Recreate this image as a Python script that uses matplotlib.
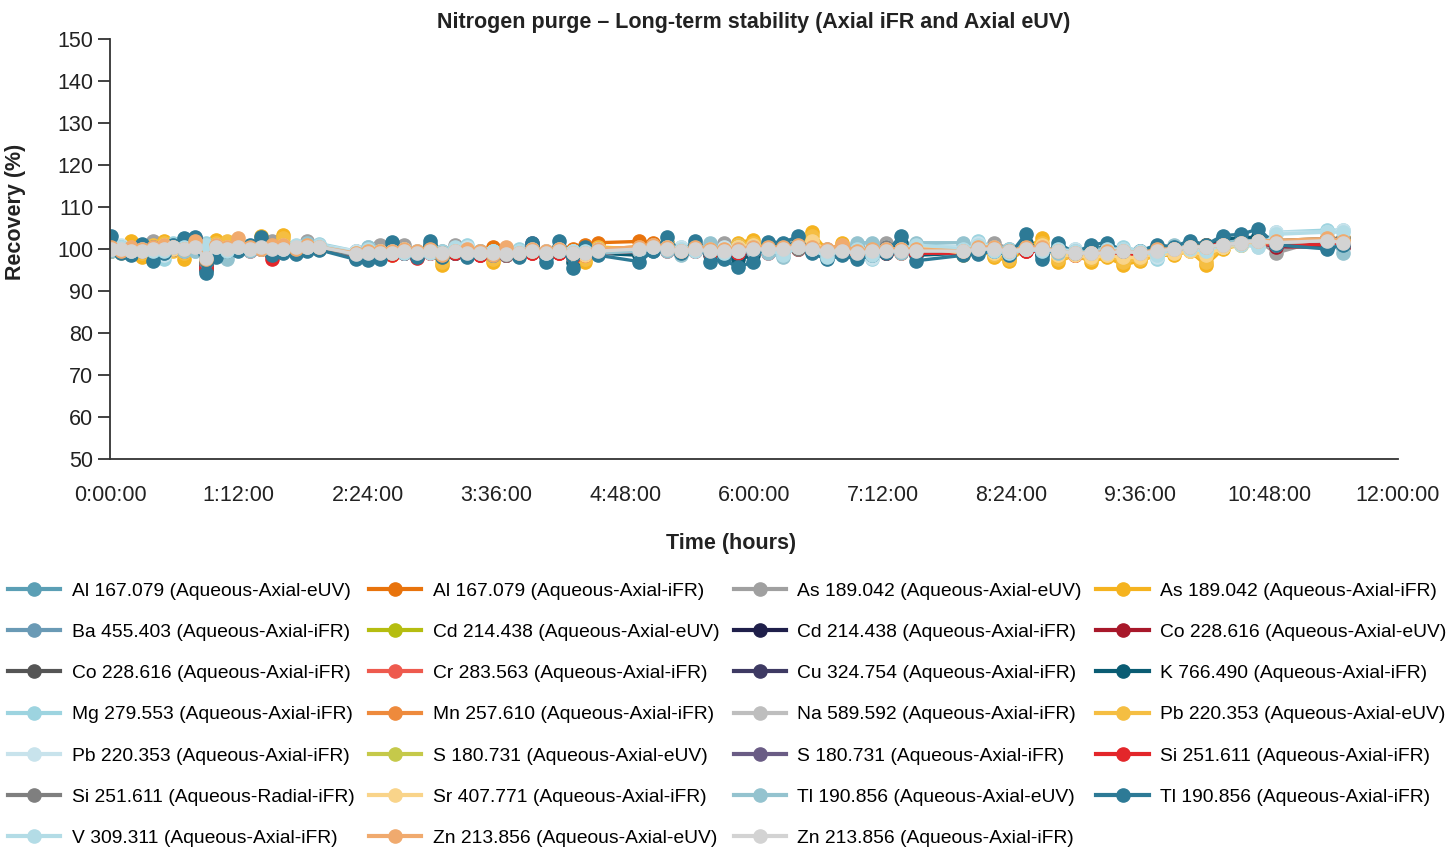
import matplotlib
matplotlib.use("Agg")
import matplotlib.pyplot as plt
from matplotlib.lines import Line2D
from matplotlib.ticker import FuncFormatter, MultipleLocator

plt.rcParams["font.family"] = ["Liberation Sans", "DejaVu Sans"]

# sample times in hours
times = [
    0.01, 0.10, 0.20, 0.30, 0.40, 0.50, 0.59, 0.69, 0.79, 0.89, 0.99, 1.09, 1.19, 1.30, 1.41, 1.51, 1.61, 1.73, 1.84, 1.95,
    2.29, 2.40, 2.52, 2.63, 2.74, 2.86, 2.98, 3.09, 3.21, 3.33, 3.45, 3.57, 3.69, 3.81, 3.93, 4.06, 4.18, 4.31, 4.43, 4.55,
    4.93, 5.06, 5.19, 5.32, 5.45, 5.59, 5.72, 5.85, 5.99, 6.13, 6.27, 6.41, 6.54, 6.68, 6.82, 6.96, 7.10, 7.23, 7.37, 7.51,
    7.95, 8.09, 8.24, 8.38, 8.53, 8.68, 8.83, 8.99, 9.14, 9.29, 9.44, 9.60, 9.75, 9.91, 10.06, 10.21, 10.37, 10.54, 10.70, 10.86,
    11.34, 11.49,
]

labels = [
    "Al 167.079 (Aqueous-Axial-eUV)", "Al 167.079 (Aqueous-Axial-iFR)", "As 189.042 (Aqueous-Axial-eUV)",
    "As 189.042 (Aqueous-Axial-iFR)", "Ba 455.403 (Aqueous-Axial-iFR)", "Cd 214.438 (Aqueous-Axial-eUV)",
    "Cd 214.438 (Aqueous-Axial-iFR)", "Co 228.616 (Aqueous-Axial-eUV)", "Co 228.616 (Aqueous-Axial-iFR)",
    "Cr 283.563 (Aqueous-Axial-iFR)", "Cu 324.754 (Aqueous-Axial-iFR)", "K 766.490 (Aqueous-Axial-iFR)",
    "Mg 279.553 (Aqueous-Axial-iFR)", "Mn 257.610 (Aqueous-Axial-iFR)", "Na 589.592 (Aqueous-Axial-iFR)",
    "Pb 220.353 (Aqueous-Axial-eUV)", "Pb 220.353 (Aqueous-Axial-iFR)", "S 180.731 (Aqueous-Axial-eUV)",
    "S 180.731 (Aqueous-Axial-iFR)", "Si 251.611 (Aqueous-Axial-iFR)", "Si 251.611 (Aqueous-Radial-iFR)",
    "Sr 407.771 (Aqueous-Axial-iFR)", "Tl 190.856 (Aqueous-Axial-eUV)", "Tl 190.856 (Aqueous-Axial-iFR)",
    "V 309.311 (Aqueous-Axial-iFR)", "Zn 213.856 (Aqueous-Axial-eUV)", "Zn 213.856 (Aqueous-Axial-iFR)",
]

colors = [
    "#5b9fb5", "#e8730c", "#a0a0a0", "#f5b31f", "#6a9ab5", "#b5bd10", "#1f1f4a", "#a8182a", "#555555",
    "#ee5a4e", "#3e3a63", "#0a5c73", "#9dd4e0", "#ee8a3c", "#bebebe", "#f5be42", "#c8e3ec", "#c5c94a",
    "#6a5c85", "#e3262a", "#7f7f7f", "#f9d48a", "#94c3cf", "#2d7a96", "#b3dce6", "#f0aa6e", "#d3d3d3",
]

al_euv = [
    99.5, 100.0, 99.0, 100.0, 99.5, 100.0, 100.0, 99.5, 100.0, 97.5, 99.5, 99.5, 100.0, 100.0, 100.0, 99.5, 99.5, 100.0, 100.0, 100.0,
    98.5, 98.5, 99.0, 99.5, 99.0, 98.5, 99.5, 98.5, 99.0, 99.0, 98.5, 98.5, 98.5, 98.5, 99.5, 98.5, 99.5, 98.5, 98.5, 99.0,
    99.0, 99.5, 100.0, 99.0, 100.0, 99.0, 99.0, 98.5, 99.5, 99.5, 99.5, 100.0, 99.5, 99.0, 99.0, 98.5, 99.0, 99.0, 99.5, 99.0,
    99.0, 99.5, 99.5, 99.0, 100.0, 99.0, 99.5, 98.5, 99.0, 99.0, 99.0, 98.5, 99.0, 99.5, 100.0, 100.0, 101.0, 101.5, 101.5, 100.5,
    100.5, 100.5,
]
al_ifr = [
    100.0, 100.0, 99.5, 100.0, 100.5, 100.0, 100.5, 100.0, 100.5, 98.0, 100.5, 100.0, 100.5, 100.0, 100.5, 100.0, 100.0, 100.5, 100.0, 100.5,
    99.0, 99.0, 99.0, 99.5, 99.5, 99.0, 99.5, 99.0, 99.5, 99.5, 99.0, 100.5, 99.0, 99.5, 100.0, 99.5, 100.0, 100.0, 101.0, 101.5,
    101.8, 101.5, 100.5, 100.0, 100.0, 99.5, 99.5, 100.0, 100.0, 100.5, 100.0, 100.5, 100.0, 99.5, 99.5, 99.5, 99.5, 99.5, 99.5, 100.0,
    99.5, 100.0, 100.0, 99.5, 100.0, 100.0, 99.5, 99.0, 99.5, 99.0, 99.5, 99.0, 99.5, 100.0, 100.5, 101.0, 101.0, 101.5, 101.5, 101.0,
    101.5, 101.5,
]
as_euv = [
    100.0, 100.0, 99.5, 100.5, 102.0, 100.5, 100.0, 100.5, 102.5, 96.0, 100.0, 100.0, 100.5, 100.0, 100.0, 102.0, 100.0, 100.5, 102.0, 100.0,
    99.5, 99.0, 101.0, 99.0, 101.0, 99.5, 99.5, 99.5, 101.0, 99.0, 99.5, 99.5, 99.0, 99.5, 99.5, 99.0, 99.5, 99.0, 99.5, 99.5,
    100.0, 100.5, 100.0, 99.5, 100.5, 100.0, 101.5, 100.0, 100.5, 100.0, 100.5, 100.5, 100.0, 100.0, 99.5, 101.0, 99.5, 101.5, 99.5, 100.0,
    100.0, 100.0, 101.5, 100.0, 100.5, 100.0, 100.0, 99.0, 99.5, 99.5, 99.5, 99.0, 99.5, 100.0, 100.5, 100.5, 101.0, 101.5, 102.0, 99.0,
    102.5, 102.0,
]
as_ifr = [
    100.5, 99.5, 101.8, 98.2, 100.5, 102.0, 100.0, 97.5, 100.0, 98.5, 102.2, 101.0, 100.0, 100.5, 103.0, 100.0, 103.3, 100.0, 100.5, 100.0,
    99.0, 99.5, 99.0, 98.5, 99.5, 99.0, 99.5, 96.2, 99.5, 99.0, 99.0, 97.0, 99.0, 99.5, 99.5, 99.0, 99.5, 98.5, 97.0, 100.0,
    100.5, 101.0, 101.5, 100.0, 100.0, 99.5, 100.0, 101.5, 102.2, 100.0, 100.0, 100.5, 104.0, 99.5, 101.5, 99.0, 99.5, 100.0, 99.5, 101.0,
    99.0, 100.0, 98.0, 97.2, 100.0, 102.5, 97.0, 98.5, 97.0, 98.0, 96.2, 97.2, 98.5, 98.5, 99.5, 96.2, 100.0, 101.0, 101.5, 101.5,
    102.0, 102.5,
]
ba_ifr = [
    100.0, 99.5, 99.5, 100.5, 99.5, 100.0, 100.5, 100.5, 100.5, 97.0, 100.0, 100.0, 100.5, 100.5, 100.5, 99.5, 100.0, 100.0, 100.5, 100.5,
    98.5, 99.0, 99.0, 100.0, 99.5, 99.0, 100.0, 99.0, 99.5, 99.0, 99.5, 99.0, 99.0, 99.0, 100.0, 98.5, 100.0, 98.5, 99.5, 99.5,
    99.5, 100.5, 100.5, 99.5, 100.5, 99.5, 99.0, 99.0, 99.5, 100.5, 100.0, 100.5, 100.0, 99.0, 99.5, 99.0, 99.5, 99.5, 100.5, 99.0,
    99.5, 100.0, 100.0, 99.0, 100.5, 99.5, 100.0, 99.0, 99.5, 99.5, 99.5, 99.0, 100.0, 100.0, 101.0, 100.5, 101.5, 102.0, 102.5, 101.5,
    101.5, 101.0,
]
cd_euv = [
    100.0, 100.0, 99.5, 99.5, 100.0, 100.0, 100.5, 100.0, 100.5, 97.5, 100.5, 100.0, 100.5, 100.0, 100.0, 100.0, 100.5, 100.0, 100.5, 100.0,
    98.5, 99.0, 99.0, 99.0, 99.5, 99.0, 99.5, 99.0, 99.5, 99.0, 99.0, 99.0, 98.5, 99.0, 99.5, 99.0, 99.5, 99.0, 99.0, 99.5,
    100.0, 100.5, 100.0, 99.5, 100.0, 99.5, 99.5, 99.5, 100.0, 100.0, 100.0, 100.5, 100.0, 99.5, 99.5, 99.0, 99.5, 99.5, 99.5, 99.5,
    99.5, 100.0, 100.0, 99.5, 100.0, 100.0, 99.5, 99.0, 99.0, 99.0, 99.5, 99.0, 99.5, 100.0, 100.5, 100.5, 101.0, 101.0, 101.5, 101.5,
    102.0, 101.5,
]
cd_ifr = [
    100.0, 99.5, 99.5, 100.0, 99.5, 100.0, 100.0, 100.5, 100.5, 96.5, 100.0, 100.0, 100.0, 100.5, 100.5, 99.5, 100.0, 100.0, 100.0, 100.0,
    98.0, 98.5, 99.0, 99.5, 99.0, 98.5, 99.5, 99.0, 99.0, 98.5, 99.0, 98.5, 98.5, 98.5, 99.5, 98.5, 99.5, 98.5, 99.0, 99.0,
    99.5, 100.0, 100.5, 99.5, 100.5, 99.0, 99.0, 98.5, 99.5, 100.0, 100.0, 100.5, 99.5, 99.0, 99.0, 99.0, 99.0, 99.5, 100.0, 99.0,
    99.0, 99.5, 99.5, 98.0, 100.0, 99.5, 99.5, 99.0, 99.5, 99.5, 99.5, 99.0, 99.5, 100.0, 100.5, 100.5, 101.5, 102.0, 102.0, 101.0,
    101.5, 101.0,
]
co_euv = [
    100.0, 99.5, 99.5, 100.0, 100.0, 99.5, 100.0, 99.5, 101.5, 96.0, 100.0, 99.5, 100.0, 100.0, 100.0, 98.5, 100.0, 100.0, 100.0, 100.0,
    98.0, 98.5, 98.5, 99.0, 99.0, 98.0, 99.0, 98.5, 99.0, 98.5, 98.5, 98.5, 98.5, 98.5, 99.0, 98.5, 99.0, 98.0, 98.5, 99.0,
    99.5, 100.0, 100.0, 99.0, 99.5, 99.0, 99.0, 99.0, 99.5, 99.5, 99.5, 100.0, 99.5, 99.0, 99.0, 98.5, 99.0, 99.0, 99.5, 99.0,
    99.0, 99.5, 99.5, 99.0, 99.5, 99.5, 99.0, 98.5, 99.0, 99.0, 99.0, 98.5, 99.0, 99.5, 100.0, 100.5, 101.0, 101.5, 101.5, 100.5,
    100.5, 100.5,
]
co_ifr = [
    100.0, 99.5, 99.5, 100.0, 100.0, 100.0, 100.0, 100.0, 100.5, 96.5, 100.0, 100.0, 100.0, 100.0, 100.5, 99.5, 100.0, 100.0, 100.0, 100.0,
    98.0, 98.5, 99.0, 99.0, 99.0, 98.5, 99.5, 98.5, 99.0, 98.5, 99.0, 98.5, 98.5, 98.5, 99.5, 98.5, 99.5, 98.5, 99.0, 99.0,
    99.5, 100.0, 100.0, 99.5, 100.0, 99.0, 99.0, 99.0, 99.5, 100.0, 100.0, 100.5, 99.5, 99.0, 99.0, 99.0, 99.0, 99.5, 100.0, 99.0,
    99.0, 99.5, 99.5, 99.0, 100.0, 99.5, 99.5, 99.0, 99.0, 99.5, 99.5, 99.0, 99.5, 100.0, 100.5, 101.0, 101.5, 102.0, 102.5, 101.0,
    102.0, 102.0,
]
cr_ifr = [
    100.0, 99.5, 99.5, 100.0, 100.0, 99.5, 100.0, 100.0, 101.0, 96.0, 100.0, 100.0, 100.0, 100.0, 100.5, 98.5, 100.0, 100.0, 100.0, 100.0,
    98.0, 98.5, 98.5, 99.0, 99.0, 98.0, 99.0, 98.5, 99.0, 98.5, 98.5, 98.5, 98.5, 98.5, 99.0, 98.5, 99.0, 98.5, 98.5, 99.0,
    99.5, 100.0, 100.0, 99.0, 99.5, 99.0, 99.0, 99.0, 99.5, 99.5, 99.5, 100.0, 99.5, 99.0, 99.0, 98.5, 99.0, 99.0, 99.5, 99.0,
    99.0, 99.5, 99.5, 99.0, 99.5, 99.5, 99.0, 98.5, 99.0, 99.0, 99.0, 98.5, 99.0, 99.5, 100.0, 100.5, 101.0, 101.5, 102.0, 101.0,
    101.5, 101.0,
]
cu_ifr = [
    100.0, 99.5, 99.5, 100.0, 100.0, 100.0, 100.0, 100.5, 100.5, 96.5, 100.0, 100.0, 100.0, 100.0, 100.5, 99.5, 100.0, 100.0, 100.0, 100.0,
    98.5, 98.5, 99.0, 99.5, 99.0, 98.5, 99.5, 99.0, 99.0, 98.5, 99.0, 98.5, 98.5, 99.0, 101.0, 98.5, 99.5, 98.5, 99.0, 99.0,
    99.5, 100.0, 100.5, 99.5, 100.5, 99.0, 99.0, 99.0, 99.5, 100.0, 100.0, 100.5, 100.5, 99.0, 99.0, 99.0, 99.0, 99.5, 100.0, 99.0,
    99.0, 99.5, 99.5, 98.5, 100.0, 99.5, 99.5, 99.0, 99.5, 99.5, 99.5, 99.0, 99.5, 100.0, 100.5, 100.5, 101.5, 102.0, 102.5, 101.0,
    101.5, 101.0,
]
k_ifr = [
    100.5, 99.5, 99.0, 100.5, 98.5, 99.5, 100.5, 101.0, 101.5, 95.0, 99.0, 99.5, 100.0, 100.5, 101.5, 99.0, 99.5, 99.5, 100.0, 100.0,
    98.0, 98.0, 98.5, 100.5, 99.0, 98.5, 101.0, 98.5, 99.0, 98.5, 99.0, 98.5, 99.0, 98.5, 100.5, 98.0, 100.5, 97.0, 100.0, 99.0,
    98.5, 100.0, 101.5, 99.0, 101.0, 98.5, 98.5, 97.5, 98.5, 101.0, 100.5, 101.5, 99.5, 98.5, 99.0, 98.5, 99.0, 99.0, 101.5, 98.5,
    99.0, 99.5, 99.5, 98.5, 101.5, 98.5, 100.5, 99.0, 100.0, 100.5, 99.5, 99.5, 100.5, 100.5, 101.5, 101.0, 102.5, 102.5, 103.0, 101.0,
    100.5, 101.0,
]
mg_ifr = [
    99.5, 100.8, 100.0, 99.5, 100.5, 97.5, 101.5, 100.0, 99.5, 101.5, 100.0, 100.5, 100.0, 100.0, 100.5, 99.5, 100.0, 100.5, 101.0, 101.3,
    99.5, 100.5, 99.5, 99.5, 100.0, 99.0, 100.0, 99.5, 100.0, 101.0, 99.5, 99.5, 99.5, 100.0, 99.5, 99.5, 100.0, 99.5, 100.0, 100.0,
    100.0, 101.0, 101.5, 100.5, 100.0, 100.5, 100.0, 101.0, 100.0, 99.5, 99.5, 100.5, 101.5, 98.5, 99.5, 100.0, 97.5, 100.5, 99.5, 101.0,
    100.5, 101.8, 100.5, 100.0, 100.5, 100.0, 100.0, 100.0, 99.5, 100.0, 100.5, 99.5, 97.5, 100.0, 100.5, 99.5, 101.0, 101.5, 101.0, 104.0,
    104.5, 104.5,
]
mn_ifr = [
    100.0, 100.0, 99.5, 100.0, 100.0, 100.0, 100.5, 100.0, 100.5, 97.5, 100.5, 100.0, 100.5, 100.0, 100.5, 100.0, 100.0, 100.5, 100.5, 100.5,
    98.5, 99.0, 99.0, 99.0, 99.5, 99.0, 99.5, 99.0, 99.5, 99.0, 99.0, 99.0, 99.5, 99.0, 99.5, 99.0, 99.5, 99.0, 99.5, 100.0,
    100.5, 101.0, 100.0, 99.5, 100.0, 99.5, 99.5, 99.5, 100.0, 100.0, 100.0, 100.5, 100.0, 99.5, 99.5, 99.0, 99.5, 99.5, 99.5, 99.5,
    99.5, 100.0, 100.0, 99.5, 100.0, 100.0, 99.5, 99.0, 99.0, 99.0, 99.5, 99.0, 99.5, 100.0, 100.5, 101.0, 101.0, 101.5, 102.0, 101.5,
    102.0, 101.5,
]
na_ifr = [
    100.0, 100.0, 99.5, 99.5, 100.0, 100.0, 100.0, 100.0, 100.5, 97.5, 100.5, 100.0, 100.0, 100.0, 100.5, 100.0, 100.0, 100.0, 100.5, 100.5,
    98.5, 99.0, 99.5, 99.0, 99.5, 99.0, 99.5, 99.0, 99.5, 99.0, 99.0, 99.0, 98.5, 99.0, 99.5, 99.0, 99.5, 98.5, 99.0, 99.5,
    100.0, 100.5, 100.0, 99.5, 100.0, 99.5, 100.0, 99.5, 100.0, 100.0, 100.0, 100.5, 100.0, 99.5, 99.5, 99.0, 99.5, 99.5, 99.5, 99.5,
    99.5, 100.0, 100.0, 99.5, 100.0, 100.0, 99.5, 99.0, 99.0, 99.0, 99.5, 99.0, 99.5, 100.0, 100.5, 100.5, 101.0, 101.5, 101.5, 101.0,
    101.5, 101.0,
]
pb_euv = [
    99.5, 100.5, 100.5, 99.0, 101.0, 101.5, 99.5, 99.0, 101.0, 97.0, 101.5, 102.0, 101.0, 100.0, 101.5, 99.5, 102.5, 100.5, 101.0, 100.5,
    98.5, 99.5, 99.5, 99.0, 100.0, 98.5, 100.0, 97.0, 100.0, 98.5, 99.5, 97.5, 99.5, 98.5, 100.0, 98.5, 100.0, 98.0, 97.5, 100.5,
    100.0, 100.5, 101.5, 99.5, 100.5, 99.0, 99.5, 101.0, 101.5, 100.5, 99.5, 101.0, 103.0, 99.0, 101.0, 99.0, 100.0, 99.5, 99.0, 100.5,
    98.5, 99.5, 98.5, 97.5, 100.5, 101.5, 97.5, 98.5, 97.5, 98.5, 97.0, 97.5, 98.5, 99.0, 99.5, 97.0, 100.5, 101.5, 101.5, 102.0,
    102.5, 102.5,
]
pb_ifr = [
    100.0, 101.0, 99.5, 100.0, 100.0, 98.5, 100.5, 100.0, 100.5, 100.5, 100.0, 99.5, 100.0, 100.5, 100.5, 100.0, 100.0, 100.5, 100.5, 101.0,
    99.5, 100.5, 99.0, 99.5, 100.0, 99.5, 99.5, 99.0, 100.0, 100.5, 99.5, 99.5, 99.0, 99.5, 99.5, 99.5, 99.5, 99.5, 99.5, 100.0,
    100.0, 100.5, 101.0, 100.5, 100.0, 100.0, 100.5, 100.5, 100.0, 100.0, 99.0, 100.0, 100.5, 98.0, 99.5, 100.0, 97.8, 100.5, 99.5, 100.5,
    100.5, 101.5, 100.0, 99.5, 100.0, 100.0, 99.5, 100.0, 99.0, 99.5, 100.0, 99.5, 98.0, 99.5, 100.0, 99.5, 100.5, 101.0, 100.5, 104.0,
    104.0, 104.5,
]
s_euv = [
    100.0, 100.0, 99.5, 99.5, 100.0, 100.5, 100.5, 100.0, 100.5, 97.5, 100.5, 100.0, 100.5, 100.0, 100.0, 100.0, 100.5, 100.5, 100.5, 100.5,
    98.5, 99.0, 99.5, 99.0, 99.5, 99.0, 99.5, 99.0, 99.5, 99.5, 99.0, 99.0, 99.0, 99.0, 99.5, 99.0, 99.5, 99.0, 99.0, 99.5,
    100.0, 100.5, 100.0, 99.5, 100.0, 99.5, 99.5, 99.5, 100.0, 100.0, 100.0, 100.5, 100.0, 99.5, 99.5, 99.0, 99.5, 99.5, 99.5, 99.5,
    99.5, 100.0, 100.0, 99.5, 100.0, 100.0, 99.5, 99.0, 99.0, 99.0, 99.5, 99.0, 99.5, 100.0, 100.5, 100.5, 101.0, 101.0, 101.5, 101.5,
    101.5, 101.5,
]
s_ifr = [
    100.0, 99.5, 99.5, 100.0, 100.0, 100.0, 100.0, 100.5, 100.5, 96.5, 100.0, 100.0, 100.0, 100.0, 100.5, 99.5, 100.0, 100.0, 100.0, 100.0,
    98.5, 98.5, 99.0, 99.5, 99.0, 98.5, 99.5, 99.0, 99.0, 98.5, 99.0, 98.5, 98.5, 99.0, 101.5, 98.5, 99.5, 98.5, 99.0, 99.0,
    99.5, 100.0, 100.5, 99.5, 100.5, 99.0, 99.0, 99.0, 99.5, 100.0, 100.0, 100.5, 101.0, 99.0, 99.0, 99.0, 99.0, 99.5, 100.0, 99.0,
    99.0, 99.5, 99.5, 98.5, 100.0, 99.5, 99.5, 99.0, 99.5, 99.5, 99.5, 99.0, 99.5, 100.0, 100.5, 100.5, 101.5, 102.0, 102.0, 101.0,
    101.5, 101.0,
]
si_ifr = [
    100.0, 99.5, 99.5, 99.5, 100.0, 99.5, 100.0, 99.5, 102.5, 95.5, 100.0, 99.5, 100.0, 99.5, 100.0, 97.5, 99.5, 100.0, 100.0, 100.0,
    97.8, 98.5, 98.5, 98.5, 99.0, 97.8, 99.0, 98.5, 99.0, 98.5, 98.5, 98.5, 98.5, 98.5, 99.0, 98.5, 99.0, 98.0, 98.5, 99.0,
    99.5, 100.0, 99.5, 99.0, 99.5, 99.0, 99.0, 99.0, 99.5, 99.0, 99.5, 100.0, 99.5, 99.0, 99.0, 98.5, 99.0, 99.0, 99.0, 99.0,
    99.0, 99.5, 99.5, 99.0, 99.5, 99.5, 99.0, 98.5, 99.0, 99.0, 99.0, 98.5, 99.0, 99.5, 100.0, 100.5, 101.5, 101.5, 101.5, 101.0,
    101.0, 101.0,
]
si_radial = [
    100.0, 99.5, 100.0, 99.5, 100.5, 100.0, 100.0, 99.5, 101.0, 97.0, 100.5, 100.0, 100.0, 100.0, 100.5, 100.5, 100.0, 100.0, 100.5, 100.0,
    98.5, 99.0, 99.0, 99.0, 99.5, 99.0, 99.5, 98.5, 99.5, 99.0, 99.0, 98.5, 98.5, 99.0, 99.5, 98.5, 99.5, 99.0, 99.0, 99.0,
    99.5, 100.5, 100.0, 99.5, 100.0, 99.5, 99.5, 99.5, 100.0, 100.0, 100.0, 100.0, 100.0, 99.5, 99.5, 99.5, 99.5, 100.5, 99.5, 99.5,
    99.5, 100.0, 100.0, 99.5, 100.0, 100.0, 99.5, 99.0, 99.0, 99.0, 99.5, 99.0, 99.5, 100.0, 100.5, 100.5, 101.0, 101.5, 102.0, 102.0,
    102.5, 102.5,
]
sr_ifr = [
    100.0, 99.0, 100.0, 99.5, 100.0, 101.0, 100.0, 99.5, 100.5, 98.0, 101.0, 100.5, 101.0, 100.0, 100.5, 100.0, 101.0, 100.5, 100.5, 100.5,
    99.0, 99.5, 99.5, 99.0, 99.5, 99.0, 99.5, 98.5, 99.5, 99.0, 99.0, 98.5, 99.0, 99.0, 99.5, 99.0, 99.5, 98.5, 98.5, 100.0,
    100.0, 100.5, 101.0, 99.5, 100.0, 99.5, 99.5, 100.5, 101.0, 100.0, 100.0, 100.5, 102.0, 99.5, 100.5, 99.0, 99.5, 99.5, 99.5, 100.5,
    99.0, 100.0, 99.0, 98.5, 100.0, 101.0, 98.5, 98.5, 98.0, 98.5, 98.0, 98.0, 99.0, 99.0, 99.5, 98.5, 100.5, 101.0, 101.5, 101.5,
    102.0, 102.0,
]
tl_euv = [
    99.5, 100.5, 99.0, 100.5, 99.5, 99.0, 101.0, 99.5, 99.5, 98.0, 100.0, 97.5, 100.0, 99.5, 100.5, 99.0, 100.0, 100.5, 101.5, 101.0,
    98.5, 100.5, 98.5, 99.5, 99.5, 98.5, 99.5, 98.5, 100.0, 98.5, 99.5, 98.5, 99.0, 98.5, 100.0, 99.0, 99.5, 98.5, 99.5, 99.0,
    99.5, 100.0, 99.5, 98.5, 99.5, 101.5, 99.0, 99.5, 99.5, 99.0, 98.0, 101.0, 99.5, 99.0, 99.5, 101.5, 101.5, 99.5, 99.0, 101.5,
    101.5, 99.5, 99.5, 99.0, 100.0, 99.5, 99.0, 99.5, 100.0, 100.0, 99.5, 99.5, 99.0, 101.0, 100.5, 100.0, 101.5, 102.0, 102.0, 101.5,
    102.0, 99.0,
]
tl_ifr = [
    103.0, 99.0, 98.5, 101.2, 97.2, 99.0, 101.0, 102.5, 102.8, 94.2, 98.0, 99.5, 99.5, 101.0, 102.8, 98.5, 99.0, 98.8, 99.5, 99.8,
    97.5, 97.3, 97.5, 101.7, 99.0, 98.0, 102.0, 98.0, 99.5, 98.0, 99.0, 98.5, 99.5, 98.0, 101.5, 96.8, 102.0, 95.5, 100.5, 98.5,
    97.0, 99.5, 102.8, 99.0, 102.0, 97.0, 97.5, 95.6, 97.0, 101.7, 101.5, 103.0, 99.0, 97.5, 98.5, 97.5, 98.5, 99.0, 103.2, 97.2,
    98.5, 98.8, 99.5, 98.5, 103.5, 97.5, 101.5, 99.0, 101.0, 101.5, 99.5, 99.5, 101.0, 100.5, 102.0, 101.0, 103.2, 103.5, 104.8, 101.0,
    100.0, 101.0,
]
v_ifr = [
    100.0, 100.5, 99.5, 100.0, 99.5, 99.5, 100.5, 100.5, 101.0, 101.0, 100.5, 99.5, 100.5, 100.0, 100.0, 100.5, 100.0, 101.0, 100.5, 101.0,
    99.0, 100.0, 99.5, 99.5, 99.0, 99.5, 99.0, 99.0, 100.5, 99.5, 99.0, 99.5, 99.5, 99.5, 100.0, 99.0, 100.0, 99.5, 99.5, 100.0,
    100.0, 100.5, 100.5, 100.0, 99.5, 100.0, 99.0, 100.0, 100.5, 100.0, 98.5, 100.5, 100.0, 98.0, 100.0, 100.0, 98.5, 100.0, 100.0, 101.0,
    100.0, 101.0, 99.5, 99.0, 100.0, 99.5, 100.0, 99.5, 99.0, 100.0, 100.0, 99.5, 98.5, 100.0, 100.0, 99.5, 101.0, 101.0, 100.5, 103.5,
    104.0, 104.0,
]
zn_euv = [
    100.5, 99.5, 100.5, 100.0, 100.5, 101.0, 100.5, 100.0, 102.0, 97.5, 101.0, 100.5, 102.5, 100.5, 100.0, 101.0, 101.0, 100.0, 101.0, 100.5,
    99.0, 99.5, 99.5, 99.5, 100.0, 99.5, 100.0, 98.5, 99.5, 100.0, 99.5, 98.5, 100.5, 99.0, 100.0, 99.5, 100.0, 99.0, 99.0, 100.0,
    100.5, 101.0, 100.5, 99.5, 100.5, 100.0, 100.0, 100.0, 100.5, 100.5, 100.5, 101.0, 100.5, 100.0, 101.0, 99.5, 100.0, 100.0, 100.0, 100.0,
    99.5, 100.5, 100.5, 99.5, 100.5, 100.5, 99.5, 99.0, 99.0, 99.5, 99.5, 99.0, 100.0, 100.0, 100.5, 100.5, 101.0, 101.5, 102.0, 102.0,
    102.5, 102.0,
]
zn_ifr = [
    100.0, 100.0, 99.5, 99.5, 100.0, 100.0, 100.5, 100.0, 100.5, 97.8, 100.5, 100.0, 100.5, 100.0, 100.5, 100.0, 100.0, 100.5, 100.5, 100.5,
    98.8, 99.0, 99.0, 99.0, 99.5, 99.0, 99.5, 99.0, 99.5, 99.0, 99.0, 99.0, 98.8, 99.0, 99.5, 99.0, 99.5, 99.0, 99.0, 99.5,
    100.0, 100.5, 100.0, 99.5, 100.0, 99.5, 99.5, 99.5, 100.0, 100.0, 100.0, 100.5, 100.0, 99.5, 99.5, 99.0, 99.5, 99.5, 99.5, 99.5,
    99.5, 100.0, 100.0, 99.5, 100.0, 100.0, 99.5, 99.0, 99.0, 99.0, 99.5, 99.0, 99.5, 100.0, 100.5, 100.5, 101.0, 101.5, 102.0, 101.5,
    102.0, 101.5,
]

series = [
    al_euv, al_ifr, as_euv, as_ifr, ba_ifr, cd_euv, cd_ifr, co_euv, co_ifr, cr_ifr, cu_ifr, k_ifr, mg_ifr, mn_ifr,
    na_ifr, pb_euv, pb_ifr, s_euv, s_ifr, si_ifr, si_radial, sr_ifr, tl_euv, tl_ifr, v_ifr, zn_euv, zn_ifr,
]


def hms(x, pos):
    total = int(round(x * 3600))
    return "%d:%02d:%02d" % (total // 3600, (total % 3600) // 60, total % 60)


fig = plt.figure(figsize=(14.53, 8.47), dpi=100)
ax = fig.add_axes([110 / 1453, 1 - 459 / 847, (1398 - 110) / 1453, 420 / 847])

handles = []
for vals, lab, col in zip(series, labels, colors):
    ax.plot(times, vals, color=col, lw=2.4, marker="o", ms=9.5, label=lab)
    handles.append(Line2D([], [], color=col, lw=3, marker="o", ms=9.5))

ax.set_xlim(0, 12)
ax.set_ylim(50, 150)
ax.xaxis.set_major_locator(MultipleLocator(1.2))
ax.xaxis.set_major_formatter(FuncFormatter(hms))
ax.yaxis.set_major_locator(MultipleLocator(10))

for s in ["top", "right"]:
    ax.spines[s].set_visible(False)
for s in ["left", "bottom"]:
    ax.spines[s].set_color("#333333")
    ax.spines[s].set_linewidth(1.3)

ax.tick_params(axis="x", length=0, pad=19, labelsize=15.5, colors="#222222")
ax.tick_params(axis="y", length=9, width=1.3, pad=3, labelsize=15.5, colors="#222222", color="#333333")

ax.set_title("Nitrogen purge \u2013 Long-term stability (Axial iFR and Axial eUV)",
             fontsize=15.5, fontweight="bold", color="#222222", pad=8)
ax.set_xlabel("Time (hours)", fontsize=15.5, fontweight="bold", color="#222222")
ax.set_ylabel("Recovery (%)", fontsize=15.5, fontweight="bold", color="#222222")
ax.xaxis.set_label_coords(0.482, -0.176)
ax.yaxis.set_label_coords(-0.0655, 0.588)

# legend reads row by row in the reference
ncol = 4
order = [r * ncol + c for c in range(ncol) for r in range(7) if r * ncol + c < len(labels)]
fig.legend([handles[i] for i in order], [labels[i] for i in order],
           loc="upper left", bbox_to_anchor=(8 / 1453, 1 - 582 / 847), ncol=ncol,
           frameon=False, fontsize=13.9, handlelength=2.7, handletextpad=0.6,
           columnspacing=0.75, labelspacing=1.23, borderaxespad=0, borderpad=0)

fig.savefig("out.png", dpi=100)
